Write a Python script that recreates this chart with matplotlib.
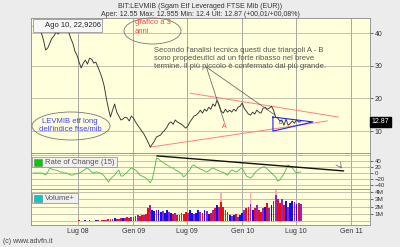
import numpy as np
import pandas as pd
import matplotlib
matplotlib.use('Agg')
import matplotlib.pyplot as plt
import matplotlib.dates as mdates
from matplotlib.patches import Ellipse, Rectangle

plt.rcParams['font.family'] = ['Liberation Sans', 'DejaVu Sans']

# ---------------- data ----------------
dates = pd.date_range('2008-02-01', periods=129, freq='7D')
price = [42.1, 41.2, 41.5, 41.8, 40.0, 37.8, 34.8, 35.4, 36.9, 38.4,
         39.1, 40.3, 39.7, 40.9, 40.3, 41.2, 41.5, 40.3, 38.4, 36.9,
         34.5, 33.2, 31.1, 29.3, 30.8, 31.7, 30.5, 32.3, 32.0, 30.8,
         31.1, 29.6, 28.0, 26.2, 23.8, 20.1, 17.0, 14.3, 16.4, 18.3,
         15.8, 14.6, 13.4, 13.7, 14.3, 14.0, 13.1, 14.6, 14.0, 12.8,
         11.8, 10.9, 10.0, 9.1, 7.9, 6.6, 5.1, 6.0, 6.9, 8.2,
         8.5, 8.8, 9.7, 10.3, 11.2, 12.4, 12.8, 12.1, 13.4, 12.8,
         12.4, 12.1, 11.5, 10.9, 11.5, 12.8, 13.7, 14.6, 14.9, 15.5,
         16.4, 15.5, 16.7, 16.1, 17.3, 16.7, 18.3, 17.6, 19.5, 18.0,
         16.1, 15.5, 16.7, 15.8, 16.4, 15.8, 16.7, 16.1, 17.3, 17.6,
         18.6, 17.0, 16.1, 15.2, 14.9, 15.8, 15.2, 16.4, 15.8, 15.5,
         17.0, 17.3, 16.7, 17.0, 17.6, 16.4, 14.3, 14.0, 13.1, 13.4,
         11.8, 13.7, 11.8, 12.4, 13.1, 12.4, 13.4, 12.8, 12.87]
roc = [0, 0, 0, 0, 0, -3, -7, 3, 17, 13,
       10, 10, 7, 3, 3, 0, 0, -3, -7, -7,
       -3, -3, 0, 3, 7, 13, 17, 10, 3, 0,
       3, 3, 0, -3, -10, -20, -30, -20, -13, -7,
       3, 10, -10, -10, -3, 3, 10, 17, 13, 10,
       3, -7, -10, -13, -17, -23, -33, -20, 10, 50,
       47, 40, 37, 30, 27, 23, 17, 17, 10, 7,
       3, -3, -13, -7, 3, 10, 23, 27, 20, 17,
       13, 10, 7, 3, 7, 13, 17, 13, 10, 7,
       3, 3, -3, -7, 3, 10, 7, 3, 7, 13,
       17, 3, -10, -13, -17, -10, 0, 7, 13, 17,
       20, 20, 13, 7, 0, -7, -13, -27, -23, -13,
       -3, 13, 27, 20, 17, 7, 0, 3, 3]
volume = [0.05, 0.03, 0.06, 0.04, 0.08, 0.05, 0.1, 0.04, 0.06, 0.05,
          0.04, 0.07, 0.05, 0.03, 0.06, 0.08, 0.05, 0.04, 0.06, 0.1,
          0.08, 0.1, 0.12, 0.08, 0.1, 0.15, 0.1, 0.12, 0.08, 0.1,
          0.12, 0.15, 0.1, 0.15, 0.2, 0.25, 0.3, 0.35, 0.3, 0.4,
          0.35, 0.3, 0.4, 0.45, 0.5, 0.55, 0.5, 0.6, 0.55, 0.7,
          0.8, 0.7, 0.9, 0.8, 1.0, 1.8, 2.2, 1.6, 1.4, 1.5,
          1.6, 1.3, 1.4, 1.2, 1.5, 1.3, 1.2, 1.0, 1.1, 0.9,
          0.8, 1.2, 1.0, 1.3, 1.1, 1.6, 1.2, 1.0, 1.2, 1.5,
          1.3, 1.1, 1.6, 1.4, 1.0, 1.2, 1.5, 1.8, 2.2, 2.0,
          2.6, 2.0, 1.6, 1.3, 0.9, 0.7, 0.8, 1.0, 0.6, 0.8,
          1.2, 1.5, 1.8, 2.0, 2.4, 1.6, 1.8, 2.2, 1.5, 1.3,
          1.8, 2.0, 2.5, 1.8, 2.2, 2.8, 3.6, 3.0, 2.5, 3.0,
          2.2, 2.8, 2.0, 2.5, 2.8, 2.6, 2.3, 2.5, 2.4]
spike_dates = ['2009-10-23', '2010-01-29', '2010-04-23']
spike_volume = [3.8, 4.0, 4.3]

support_dates = ['2009-02-27', '2010-10-13']
support_vals = [5.1, 13.1]
resist_dates = ['2009-07-11', '2010-11-19']
resist_vals = [21.6, 14.3]
triB_dates = ['2010-04-14', '2010-04-14', '2010-08-26', '2010-04-14']
triB_vals = [14.3, 10.0, 12.8, 14.3]
pointer_start = ('2009-09-03', 29.6)
pointer_A = ('2009-11-02', 12.8)
pointer_B = ('2010-04-21', 14.9)
roc_trend_dates = ['2009-03-22', '2010-12-06']
roc_trend_vals = [57, 7]

tick_dates = ['2008-07-01', '2009-01-01', '2009-07-01', '2010-01-01', '2010-07-01', '2011-01-01']
tick_labels = ['Lug 08', 'Gen 09', 'Lug 09', 'Gen 10', 'Lug 10', 'Gen 11']

# ---------------- figure ----------------
W, H = 400, 247
fig = plt.figure(figsize=(4, 2.47), dpi=100)
fig.patch.set_facecolor('#ececec')

def fx(x):
    return x / W

def fy(y):
    return 1 - y / H

L, R = 31, 370
ax = fig.add_axes([fx(L), fy(153), (R - L) / W, (153 - 18) / H])
ax2 = fig.add_axes([fx(L), fy(189), (R - L) / W, (189 - 153) / H], sharex=ax)
ax3 = fig.add_axes([fx(L), fy(225), (R - L) / W, (225 - 189) / H], sharex=ax)

bg = '#ffffdc'
td = pd.to_datetime(tick_dates)
for a in (ax, ax2, ax3):
    a.set_facecolor(bg)
    a.yaxis.tick_right()
    a.tick_params(axis='y', labelsize=5, length=2, width=0.5, pad=1.5, colors='#333333')
    a.tick_params(axis='x', length=0)
    for s in a.spines.values():
        s.set_color('#8a8a8a')
        s.set_linewidth(0.6)
    for d in td:
        a.axvline(d, color='#9a9a9a', lw=0.6, zorder=1)

ax.set_xlim(pd.Timestamp('2008-01-25'), pd.Timestamp('2011-03-05'))
ax.set_xticks(td)
plt.setp(ax.get_xticklabels(), visible=False)
plt.setp(ax2.get_xticklabels(), visible=False)
ax3.set_xticklabels(tick_labels)
ax3.tick_params(axis='x', labelsize=5, pad=2, colors='#333333')

# main price panel
ax.set_ylim(3.3, 44.6)
ax.set_yticks([10, 20, 30, 40])
for v in [10, 20, 30, 40]:
    ax.axhline(v, color='#b8b8a8', lw=0.6, zorder=1)
ax.plot(dates, price, color='#333333', lw=0.65, zorder=4)

ax.plot(pd.to_datetime(support_dates), support_vals, color='#ff8080', lw=0.7, zorder=3)
ax.plot(pd.to_datetime(resist_dates), resist_vals, color='#ff8080', lw=0.7, zorder=3)
ax.plot(pd.to_datetime(triB_dates), triB_vals, color='#2020ff', lw=0.8, zorder=5)
for tgt in (pointer_A, pointer_B):
    ax.plot(pd.to_datetime([pointer_start[0], tgt[0]]), [pointer_start[1], tgt[1]],
            color='#555555', lw=0.5, zorder=5)
ax.text(pd.Timestamp(pointer_A[0]), pointer_A[1] - 1.5, 'A', color='#ff4040', fontsize=5,
        ha='center', va='center', zorder=6)
ax.text(pd.Timestamp('2010-05-10'), 12.7, 'B', color='#2020ff', fontsize=3.5,
        ha='center', va='center', zorder=6)

# price tag
ax.text(1.005, price[-1], '12.87', transform=ax.get_yaxis_transform(), fontsize=5,
        color='white', va='center', ha='left',
        bbox=dict(boxstyle='square,pad=0.2', fc='black', ec='black'))

# ROC panel
ax2.set_ylim(-53.3, 66.6)
ax2.set_yticks([-40, -20, 0, 20, 40])
ax2.tick_params(axis='y', labelsize=4.3)
for v in [-40, -20, 0, 20, 40, 60]:
    ax2.axhline(v, color='#b8b8a8', lw=0.6, zorder=1)
ax2.plot(dates, roc, color='#44bb44', lw=0.6, zorder=3)
ax2.plot(pd.to_datetime(roc_trend_dates), roc_trend_vals, color='#111111', lw=1.0, zorder=4)
ax2.annotate('', xy=(pd.Timestamp(roc_trend_dates[1]), roc_trend_vals[1]),
             xytext=(pd.Timestamp('2010-11-20'), 30),
             arrowprops=dict(arrowstyle='->', color='#666666', lw=0.5), zorder=5)

# Volume panel
ax3.set_ylim(-0.5, 4.41)
ax3.set_yticks([1, 2, 3, 4])
ax3.set_yticklabels(['1M', '2M', '3M', '4M'])
ax3.tick_params(axis='y', labelsize=4.6)
for v in [0, 1, 2, 3, 4]:
    ax3.axhline(v, color='#b8b8a8', lw=0.6, zorder=1)
ax3.bar(pd.to_datetime(spike_dates), spike_volume, width=6, color='#ffaaaa', zorder=2)
palette = ['#1010ee', '#ee1010', '#9922cc']
vcols = []
for i in range(len(price)):
    ch = price[i] - price[i - 1] if i > 0 else 0
    if i % 3 == 2:
        vcols.append(palette[2])
    elif ch > 0:
        vcols.append(palette[0])
    else:
        vcols.append(palette[1])
ax3.bar(dates, volume, width=6, color=vcols, zorder=3)

# legends
def legend_box(x0, y0, x1, y1, color, label):
    fig.patches.append(Rectangle((fx(x0), fy(y1)), fx(x1 - x0), (y1 - y0) / H,
                                 transform=fig.transFigure, fc='#f0f0f0', ec='#999999',
                                 lw=0.6, zorder=10))
    fig.patches.append(Rectangle((fx(x0 + 2), fy(y1 - 1.5)), fx(8), 7 / H,
                                 transform=fig.transFigure, fc=color, ec='#777777',
                                 lw=0.4, zorder=11))
    fig.text(fx(x0 + 13), fy((y0 + y1) / 2), label, fontsize=5.5, color='#555555',
             va='center', ha='left', zorder=12)

legend_box(32, 157, 117, 167, '#00cc00', 'Rate of Change (15)')
legend_box(32, 193, 78, 203, '#00cccc', 'Volume+')

# header
fig.text(0.5, fy(6), 'BIT:LEVMIB (Sgam Etf Leveraged FTSE Mib (EUR))', fontsize=5,
         color='#333333', ha='center', va='center')
fig.text(0.5, fy(14), 'Aper: 12.55 Max: 12.955 Min: 12.4 Ult: 12.87 (+00,01/+00,08%)',
         fontsize=5, color='#333333', ha='center', va='center')
fig.text(fx(3), fy(241), '(c) www.advfn.it', fontsize=5, color='#444444',
         ha='left', va='center')

# date box
fig.patches.append(Rectangle((fx(33), fy(32)), fx(69), 13 / H, transform=fig.transFigure,
                             fc='#f6f6f6', ec='#999999', lw=0.6, zorder=10))
fig.text(fx(45), fy(25.5), 'Ago 10, 22,9206', fontsize=5.5, color='#222222',
         ha='left', va='center', zorder=11)

# ellipses and notes
fig.patches.append(Ellipse((fx(152.5), fy(31)), fx(57), 26 / H, transform=fig.transFigure,
                           fc='none', ec='#777777', lw=0.6, zorder=10))
fig.text(fx(135), fy(23), 'grafico a 3', fontsize=5.5, color='#ff4040', ha='left',
         va='center', zorder=11)
fig.text(fx(135), fy(31.5), 'anni', fontsize=5.5, color='#ff4040', ha='left',
         va='center', zorder=11)

fig.patches.append(Ellipse((fx(71), fy(126)), fx(78), 28 / H, transform=fig.transFigure,
                           fc='none', ec='#777777', lw=0.6, zorder=10))
fig.text(fx(70), fy(121.5), 'LEVMIB etf long', fontsize=5.5, color='#4040ff',
         ha='center', va='center', zorder=11)
fig.text(fx(70), fy(129.5), "dell'indice ftse/mib", fontsize=5.5, color='#4040ff',
         ha='center', va='center', zorder=11)

notes = ["Secondo l'analisi tecnica questi due triangoli A - B",
         'sono propedeutici ad un forte ribasso nel breve',
         'termine. Il più piccolo è confermato dal più grande.']
for i, t in enumerate(notes):
    fig.text(fx(154), fy(50 + 8 * i), t, fontsize=5.5, color='#555555', ha='left',
             va='center', zorder=11)

fig.savefig('out.png', dpi=100, facecolor=fig.get_facecolor())
